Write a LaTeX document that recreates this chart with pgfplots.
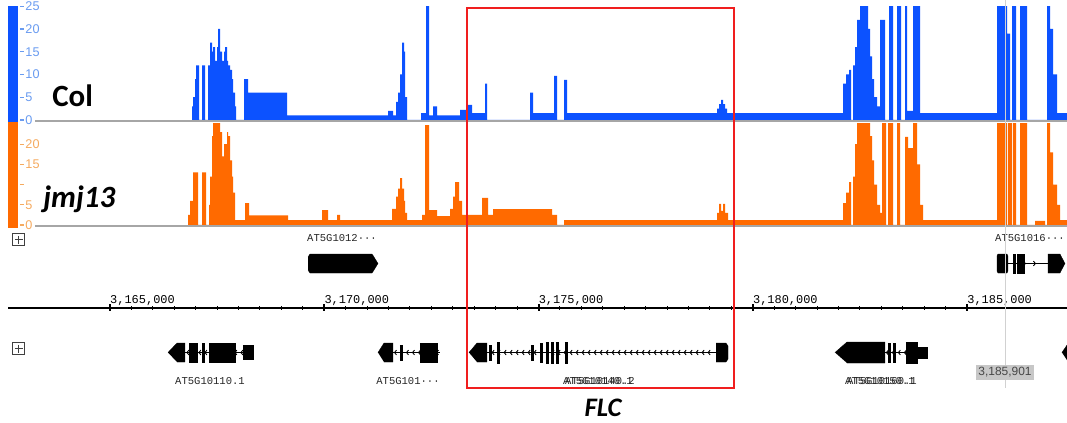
\documentclass[border=0pt]{standalone}
\usepackage{pgfplots}
\pgfplotsset{compat=1.18}
\usepackage{pgfplotstable}
\usepackage{fontspec}
\setmainfont{Liberation Sans}
\newfontfamily\carlito{Carlito}
\newfontfamily\monofont{Liberation Mono}
\usetikzlibrary{decorations.markings,arrows.meta}

\definecolor{colblue}{RGB}{12,82,255}
\definecolor{jmjorange}{RGB}{255,106,0}
\definecolor{bluetick}{RGB}{105,155,240}
\definecolor{orangetick}{RGB}{245,170,95}
\definecolor{boxred}{RGB}{240,30,30}

% coverage, x in kb, value from x to next x
\pgfplotstableread{
x y
3166.914 3
3166.937 5
3166.984 9
3167.007 12
3167.077 0
3167.147 12
3167.217 0
3167.287 12
3167.334 17
3167.381 15
3167.404 16
3167.451 13
3167.497 16
3167.521 20
3167.567 15
3167.614 13
3167.661 15
3167.684 16
3167.731 13
3167.754 12
3167.801 11
3167.847 9
3167.871 6
3167.917 3
3167.941 0
3168.127 9
3168.221 6
3169.131 1
3171.487 2
3171.604 1
3171.674 4
3171.721 6
3171.767 10
3171.814 17
3171.861 15
3171.884 5
3171.931 0
3172.257 1.5
3172.374 30
3172.444 1
3172.537 3
3172.631 1
3173.167 2.2
3173.354 3.3
3173.447 1.5
3173.751 8
3173.797 0
3174.801 6
3174.871 1.5
3175.361 9.7
3175.431 0
3175.594 8.8
3175.664 1.5
3179.164 2.5
3179.211 3.5
3179.257 4.4
3179.304 3.5
3179.351 2.5
3179.397 1.5
3182.104 8
3182.174 10
3182.244 11
3182.291 0
3182.337 12
3182.384 16
3182.431 22
3182.501 30
3182.687 20
3182.734 14
3182.781 9
3182.827 5
3182.897 3
3182.967 22
3183.084 0
3183.177 30
3183.271 0
3183.364 30
3183.457 0
3183.551 30
3183.597 2
3183.737 30
3183.901 1.5
3185.697 30
3185.931 19
3186.001 0
3186.047 30
3186.141 0
3186.234 30
3186.397 0
3186.864 30
3186.934 20
3187.004 10
3187.097 1.5
3187.331 1.5
}\colcov

\pgfplotstableread{
x y
3166.821 2.5
3166.867 6
3166.937 13
3167.054 0
3167.147 13
3167.241 0
3167.311 5
3167.334 12
3167.381 22
3167.404 30
3167.567 23
3167.614 17
3167.661 20
3167.731 23
3167.754 22
3167.801 16
3167.847 12
3167.871 8
3167.917 1.2
3168.151 5.4
3168.244 2.4
3169.154 1.2
3169.947 3.7
3170.087 1.2
3170.297 2.5
3170.367 1.2
3171.581 4
3171.674 7
3171.721 9
3171.767 11.6
3171.814 9
3171.861 6
3171.884 3
3171.931 1.2
3172.281 2.5
3172.351 24.7
3172.444 3.7
3172.631 2.2
3172.934 4
3173.004 7
3173.051 10.6
3173.144 6
3173.214 2.5
3173.681 6.7
3173.821 2.5
3173.937 3.9
3175.314 2.5
3175.431 0
3175.594 1.2
3179.164 3
3179.211 5.2
3179.257 3.5
3179.304 5.2
3179.351 3
3179.421 1.2
3182.104 5.4
3182.174 8
3182.244 10.6
3182.291 0
3182.337 12
3182.384 20
3182.431 30
3182.734 22
3182.781 16
3182.827 10
3182.897 5
3182.967 3
3183.014 30
3183.107 0
3183.154 30
3183.271 0
3183.364 30
3183.434 0
3183.551 21.8
3183.621 19
3183.737 30
3183.831 15
3183.901 5
3183.971 1.2
3185.697 30
3185.931 0
3185.954 30
3186.047 0
3186.071 30
3186.141 0
3186.234 30
3186.397 0
3186.584 1
3186.817 0
3186.864 30
3186.934 18
3187.004 10
3187.097 5
3187.167 1.2
3187.331 1.2
}\jmjcov

\pgfplotsset{
  track/.style={
    anchor=south west, x=10.714mm,
    xmin=3162.900, xmax=3187.331, ymin=0, ymax=25,
    axis x line=none, axis y line*=left,
    y axis line style={draw=none},
    tick align=inside, major tick length=1mm,
    /pgf/number format/assume math mode=true,
    yticklabel style={anchor=west, inner xsep=0pt, xshift=1.3mm,
      font=\fontsize{9}{9}\selectfont},
  },
  gene/.style={fill=black, draw=black, line width=0.2pt, mark=none},
  intronL/.style={draw=black, line width=0.35mm, mark=none,
    postaction={decorate}, decoration={markings,
      mark=between positions 0.02 and 0.98 step 1.5mm with
      {\arrowreversed{Straight Barb[length=0.5mm,width=1.2mm,line width=0.22mm]}}}},
  intronR/.style={draw=black, line width=0.35mm, mark=none,
    postaction={decorate}, decoration={markings,
      mark=between positions 0.2 and 0.9 step 2.5mm with
      {\arrow{Straight Barb[length=0.5mm,width=1.2mm,line width=0.22mm]}}}},
}

\begin{document}
\begin{tikzpicture}
% picture is 1067 x 423 px, 1 px = 0.25 mm
\useasboundingbox (0,0) rectangle (266.75mm,-105.75mm);

% baselines and side bars
\begin{scope}[x=0.25mm, y=-0.25mm]
\draw[black!35, line width=0.3mm] (35,121) -- (1067,121);
\draw[black!35, line width=0.3mm] (35,226) -- (1067,226);
\fill[colblue] (8,6) rectangle (18,122);
\fill[jmjorange] (8,122) rectangle (18,228);
\end{scope}

% Col track
\begin{axis}[track, at={(5mm,-30mm)}, y=1.1375mm,
  ytick={0,5,...,25}, yticklabels={0,5,10,15,20,25},
  every major tick/.append style={bluetick, line width=0.3mm},
  yticklabel style={text=bluetick}]
\addplot[const plot, fill=colblue, draw=none] table {\colcov} \closedcycle;
\end{axis}

% jmj13 track
\begin{axis}[track, at={(5mm,-56.25mm)}, y=1.01mm,
  ytick={0,5,...,20}, yticklabels={0,5,,15,20},
  every major tick/.append style={orangetick, line width=0.3mm},
  yticklabel style={text=orangetick}]
\addplot[const plot, fill=jmjorange, draw=none] table {\jmjcov} \closedcycle;
\end{axis}

% genomic ruler
\begin{axis}[at={(2mm,-77mm)}, anchor=north west,
  x=10.714mm, y=1mm, xmin=3162.621, xmax=3187.331, ymin=0, ymax=1,
  axis x line*=top, axis y line=none,
  xtick={3165,3170,3175,3180,3185},
  xticklabels={{3,165,000},{3,170,000},{3,175,000},{3,180,000},{3,185,000}},
  minor x tick num=9,
  tick align=center, major tick length=1.75mm, minor tick length=0.8mm,
  every major tick/.append style={line width=0.5mm, black},
  every minor tick/.append style={line width=0.25mm, black},
  x axis line style={line width=0.5mm, black},
  xticklabel style={anchor=south west, inner xsep=0pt, yshift=-1.5mm,
    font=\monofont\fontsize{8.5}{9}\selectfont},
]
\end{axis}

% gene models, red box, cursor (x in kb, y in pixel rows)
\begin{axis}[at={(0mm,-105.75mm)}, anchor=south west, hide axis, clip=false,
  x=10.714mm, y=0.25mm, y dir=reverse,
  xmin=3162.434, xmax=3187.331, ymin=0, ymax=423]
% top strand
\addplot[gene] coordinates {(3169.621,257) (3169.667,254) (3171.114,254) (3171.161,257)
  (3171.254,263.5) (3171.161,270) (3171.114,273) (3169.667,273) (3169.621,270)};
\addplot[intronR] coordinates {(3185.954,263.5) (3186.887,263.5)};
\addplot[gene] coordinates {(3185.697,256) (3185.720,254) (3185.930,254) (3185.954,256)
  (3185.954,271) (3185.930,273) (3185.720,273) (3185.697,271)};
\addplot[gene] coordinates {(3186.071,254) (3186.117,254) (3186.117,273) (3186.071,273)};
\addplot[gene] coordinates {(3186.164,254) (3186.327,254) (3186.327,273) (3186.164,273)};
\addplot[gene] coordinates {(3186.887,254) (3187.167,254) (3187.284,263.5) (3187.167,273) (3186.887,273)};
% AT5G10110.1
\addplot[intronL] coordinates {(3166.750,352.5) (3168.337,352.5)};
\addplot[gene] coordinates {(3166.354,352.5) (3166.564,343) (3166.750,343) (3166.750,362) (3166.564,362)};
\addplot[gene] coordinates {(3166.844,343) (3167.031,343) (3167.031,362) (3166.844,362)};
\addplot[gene] coordinates {(3167.147,343) (3167.194,343) (3167.194,362) (3167.147,362)};
\addplot[gene] coordinates {(3167.311,343) (3167.917,343) (3167.917,362) (3167.311,362)};
\addplot[gene] coordinates {(3168.104,345.5) (3168.337,345.5) (3168.337,359.5) (3168.104,359.5)};
% AT5G101..
\addplot[intronL] coordinates {(3171.604,352.5) (3172.701,352.5)};
\addplot[gene] coordinates {(3171.254,352.5) (3171.394,343) (3171.604,343) (3171.604,362) (3171.394,362)};
\addplot[gene] coordinates {(3171.767,345) (3171.814,345) (3171.814,360) (3171.767,360)};
\addplot[gene] coordinates {(3172.234,343) (3172.631,343) (3172.631,362) (3172.234,362)};
% FLC
\addplot[intronL] coordinates {(3173.797,352.5) (3179.141,352.5)};
\addplot[gene] coordinates {(3173.377,352.5) (3173.564,343) (3173.797,343) (3173.797,362) (3173.564,362)};
\addplot[gene] coordinates {(3173.844,345) (3173.891,345) (3173.891,360) (3173.844,360)};
\addplot[gene] coordinates {(3174.031,342) (3174.077,342) (3174.077,363) (3174.031,363)};
\addplot[gene] coordinates {(3174.824,345) (3174.871,345) (3174.871,360) (3174.824,360)};
\addplot[gene] coordinates {(3175.034,343) (3175.081,343) (3175.081,362) (3175.034,362)};
\addplot[gene] coordinates {(3175.174,342) (3175.221,342) (3175.221,363) (3175.174,363)};
\addplot[gene] coordinates {(3175.291,342) (3175.337,342) (3175.337,363) (3175.291,363)};
\addplot[gene] coordinates {(3175.407,342) (3175.454,342) (3175.454,363) (3175.407,363)};
\addplot[gene] coordinates {(3175.617,342) (3175.664,342) (3175.664,363) (3175.617,363)};
\addplot[gene] coordinates {(3179.141,343) (3179.374,343) (3179.421,346) (3179.421,359) (3179.374,362) (3179.141,362)};
% AT5G10150.1
\addplot[intronL] coordinates {(3183.084,352.5) (3184.067,352.5)};
\addplot[gene] coordinates {(3181.917,352.5) (3182.197,342) (3183.084,342) (3183.084,363) (3182.197,363)};
\addplot[gene] coordinates {(3183.154,343) (3183.201,343) (3183.201,362) (3183.154,362)};
\addplot[gene] coordinates {(3183.271,343) (3183.317,343) (3183.317,362) (3183.271,362)};
\addplot[gene] coordinates {(3183.574,342) (3183.831,342) (3183.831,363) (3183.574,363)};
\addplot[gene] coordinates {(3183.831,347) (3184.067,347) (3184.067,358) (3183.831,358)};
% next gene, cut at the edge
\addplot[gene] coordinates {(3187.214,352.5) (3187.331,345) (3187.331,360)};

% gene labels
\begin{scope}[every node/.style={font=\monofont\fontsize{7.5}{8}\selectfont, text=black!85}]
\node at (axis cs:3170.414,238) {AT5G1012···};
\node at (axis cs:3186.467,238) {AT5G1016···};
\node at (axis cs:3167.334,381) {AT5G10110.1};
\node at (axis cs:3171.954,381) {AT5G101···};
\node at (axis cs:3176.387,381) {AT5G10140.1};
\node at (axis cs:3176.434,381) {AT5G10140.2};
\node at (axis cs:3182.967,381) {AT5G10150.1};
\node at (axis cs:3183.014,381) {AT5G10160.1};
\end{scope}

% cursor line and FLC box
\draw[black!18, line width=0.25mm] (axis cs:3185.901,0) -- (axis cs:3185.901,388);
\draw[boxred, line width=0.5mm] (axis cs:3173.329,8) rectangle (axis cs:3179.558,388);
\end{axis}

\begin{scope}[x=0.25mm, y=-0.25mm]
% expand icons
\foreach \yy in {240,349} {
  \draw[black!75, line width=0.25mm] (13,\yy-6) rectangle (25,\yy+6);
  \draw[black!75, line width=0.25mm] (15,\yy) -- (23,\yy) (19,\yy-4) -- (19,\yy+4);
}
% track names
\node[anchor=base west, inner sep=0pt, font=\carlito\bfseries\fontsize{22}{24}\selectfont] at (52,107) {Col};
\node[anchor=base west, inner sep=0pt, font=\carlito\bfseries\itshape\fontsize{22}{24}\selectfont] at (43,208) {jmj13};
\node[anchor=base, inner sep=0pt, font=\carlito\bfseries\itshape\fontsize{19}{21}\selectfont] at (603,417) {FLC};
% position tooltip
\node[fill=black!22, text=black!72, inner xsep=1.5pt, inner ysep=2pt,
  font=\fontsize{8.5}{9}\selectfont] at (1005,372.5) {3,185,901};
\end{scope}
\end{tikzpicture}
\end{document}
